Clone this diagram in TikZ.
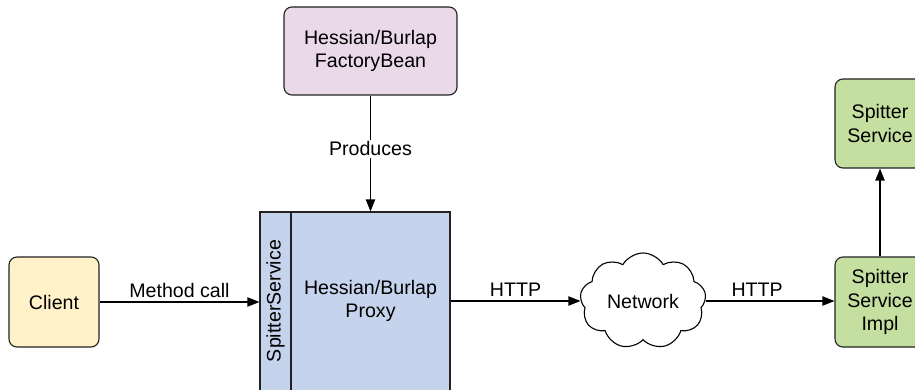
\documentclass[tikz,border=0pt]{standalone}
\usepackage{fontspec}
\setmainfont{Liberation Sans}
\usetikzlibrary{shapes.symbols,arrows.meta}
\definecolor{pinkfill}{HTML}{EAD9E9}
\definecolor{bluefill}{HTML}{C6D3EC}
\definecolor{yellowfill}{HTML}{FFF1C8}
\definecolor{greenfill}{HTML}{C5DFA0}
\definecolor{edge}{HTML}{222222}
\tikzset{
  box/.style={draw=edge, line width=0.55pt, rounded corners=4pt, align=center, inner sep=0pt},
  conn/.style={draw=black, line width=0.7pt, -{Triangle[length=6pt,width=4.6pt]}},
  lbl/.style={font=\fontsize{9.8pt}{11.6pt}\selectfont, inner sep=1pt},
}
\begin{document}
\begin{tikzpicture}[x=0.5pt,y=-0.5pt, every node/.append style={font=\fontsize{9.8pt}{11.6pt}\selectfont}]
\useasboundingbox (0,0) rectangle (915,390);
\clip (0,0) rectangle (915,390);
% nodes
\node[box, fill=pinkfill, minimum width=86.5pt, minimum height=44pt] (fb) at (370.5,51) {Hessian/Burlap\\FactoryBean};
\node[draw=edge, line width=0.55pt, fill=bluefill, minimum width=95pt, minimum height=99pt, inner sep=0pt] (proxy) at (355,311) {};
\draw[draw=edge, line width=0.55pt] (291,212) coordinate (dtop) -- (291,420) coordinate (dbot);
\node[rotate=90, inner sep=0pt] (iface) at (275.5,301) {SpitterService};
\node[align=center, inner sep=0pt] (ptext) at (370.5,301) {Hessian/Burlap\\Proxy};
\node[box, fill=yellowfill, minimum width=45pt, minimum height=45pt] (client) at (54,302) {Client};
\node[cloud, draw=black, line width=0.55pt, cloud puffs=9, cloud puff arc=120, aspect=1.35, inner sep=0pt, minimum width=63pt, minimum height=48pt] (net) at (643,301) {Network};
\node[box, fill=greenfill, minimum width=45pt, minimum height=45pt] (impl) at (880,302) {Spitter\\Service\\Impl};
\node[box, fill=greenfill, minimum width=45pt, minimum height=44.5pt] (svc) at (880,123.5) {Spitter\\Service};
% connectors
\draw[conn] (client.east) -- (client.east -| proxy.west) node[lbl, midway, above, yshift=1pt] {Method call};
\draw[conn] (fb.south) -- (fb.south |- proxy.north) node[lbl, pos=0.46, fill=white] {Produces};
\draw[conn] (net.west -| proxy.east) -- (net.west) node[lbl, pos=0.5, above, yshift=1pt] {HTTP};
\draw[conn] (net.east) -- (net.east -| impl.west) node[lbl, pos=0.4, above, yshift=1pt] {HTTP};
\draw[conn] (impl.north) -- (svc.south);
\end{tikzpicture}
\end{document}
